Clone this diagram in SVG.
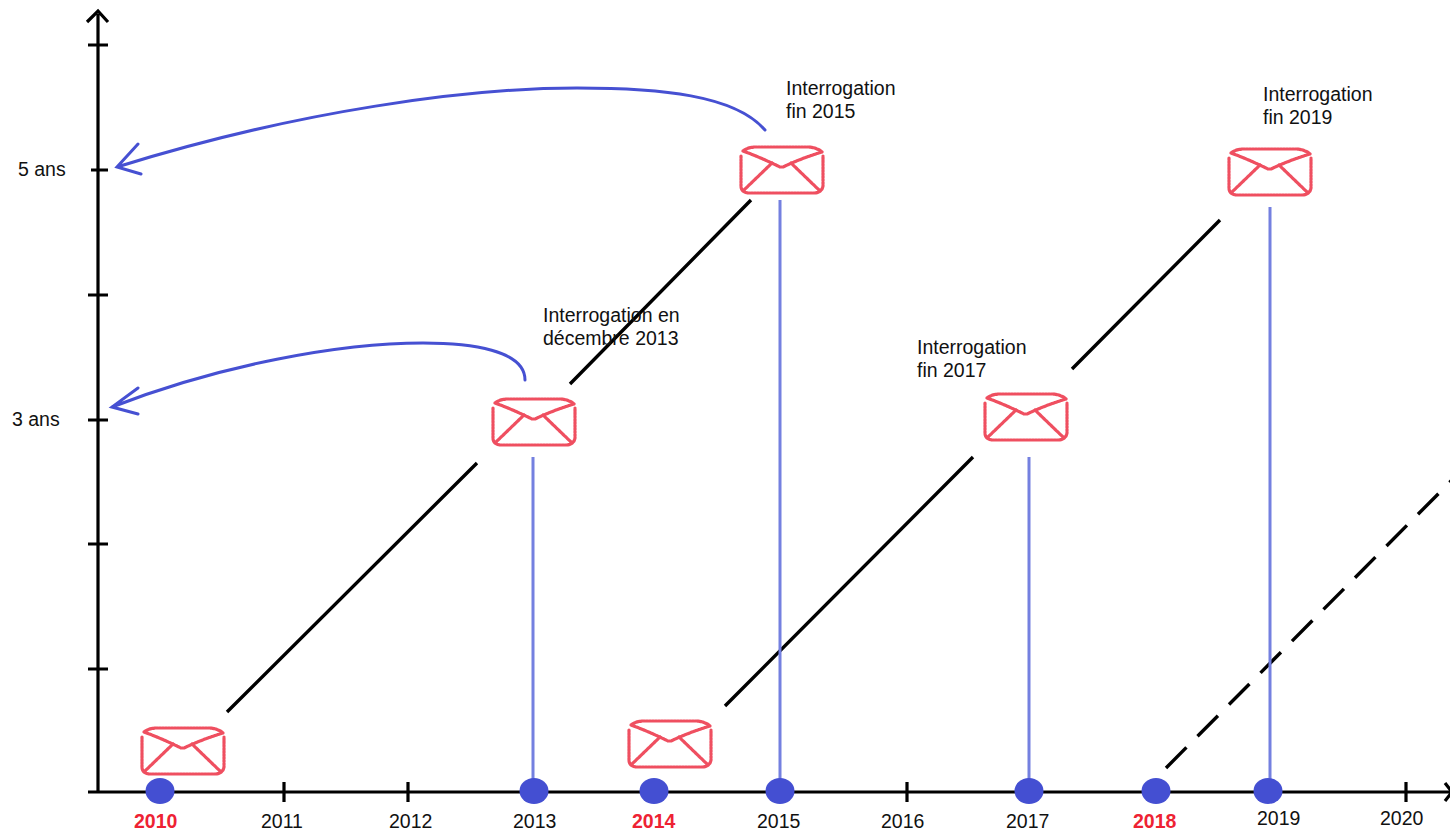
<svg xmlns="http://www.w3.org/2000/svg" width="1450" height="832" viewBox="0 0 1450 832">
<style>
text{font-family:"Liberation Sans",Arial,sans-serif;font-size:19.5px;fill:#111}
.red{fill:#ee2233;font-weight:bold}
.ax{fill:none;stroke:#000;stroke-width:3.2}
.black{fill:none;stroke:#000;stroke-width:3.4}
.dash{stroke-dasharray:29 15.7}
.drop{fill:none;stroke:#7480e0;stroke-width:3}
.curve{fill:none;stroke:#4650d2;stroke-width:3;stroke-linecap:round}
.dot{fill:#444fd2}
.env{fill:none;stroke:#ef4f60;stroke-width:3.2;stroke-dasharray:2.2 .9;stroke-linecap:round;stroke-linejoin:round;filter:url(#soft)}
</style>
<defs>
<filter id="soft" x="-5%" y="-5%" width="110%" height="110%"><feGaussianBlur stdDeviation="0.4"/></filter>
<g id="mail" class="env">
<path d="M3 5Q6 2 14 1H69Q78 2 82 6Q62 12 43 21H40Q22 12 3 5Z"/>
<path d="M1 10V40Q1 46 8 47H75Q82 46 83 40V10"/>
<path d="M4 44L32 17M79 44L51 17"/>
</g>
</defs>
<g id="axes">
<path class="ax" d="M98 14V792M87 22L98 11L108 22M88 45H108M91 170H108M88 295H108M88 420H108M88 544H108M88 669H108"/>
<path class="ax" d="M88 792H1450M284 782V802M408 782V802M907 782V802M1406 782V802M1445 783L1452 792L1445 801"/>
</g>
<g id="connectors">
<path class="black" d="M227 712L477 463M570 384L751 200M725 706L973 457M1072 369L1220 220"/>
<path class="black dash" d="M1166 768L1452 480"/>
<path class="drop" d="M533 457V790M780 200V790M1029 457V790M1270 207V790"/>
<path class="curve" d="M765 130C735 95 660 88 577 88C470 88 300 110 117 167M138 144L117 167L141 174"/>
<path class="curve" d="M525 380C525 350 470 343 423 343C340 343 220 365 112 407M138 388L112 407L138 414"/>
</g>
<g id="dots">
<ellipse class="dot" cx="160" cy="791" rx="14.5" ry="13"/>
<ellipse class="dot" cx="534" cy="791" rx="14.5" ry="13"/>
<ellipse class="dot" cx="654" cy="791" rx="14.5" ry="13"/>
<ellipse class="dot" cx="780" cy="791" rx="14.5" ry="13"/>
<ellipse class="dot" cx="1029" cy="791" rx="14.5" ry="13"/>
<ellipse class="dot" cx="1156" cy="791" rx="14.5" ry="13"/>
<ellipse class="dot" cx="1268" cy="791" rx="14.5" ry="13"/>
</g>
<g id="env-2010"><use href="#mail" x="141" y="727"/></g>
<g id="env-2013"><use href="#mail" x="492" y="398"/></g>
<g id="env-2015"><use href="#mail" x="740" y="146"/></g>
<g id="env-2014"><use href="#mail" x="628" y="720"/></g>
<g id="env-2017"><use href="#mail" x="984" y="393"/></g>
<g id="env-2019"><use href="#mail" x="1228" y="148"/></g>
<g id="labels">
<text x="18" y="176">5 ans</text>
<text x="12" y="426">3 ans</text>
<text x="786" y="95">Interrogation</text>
<text x="786" y="118">fin 2015</text>
<text x="1263" y="101">Interrogation</text>
<text x="1263" y="124">fin 2019</text>
<text x="543" y="322">Interrogation en</text>
<text x="543" y="345">décembre 2013</text>
<text x="917" y="354">Interrogation</text>
<text x="917" y="377">fin 2017</text>
<text class="red" x="134" y="828">2010</text>
<text x="261" y="828">2011</text>
<text x="389" y="828">2012</text>
<text x="513" y="828">2013</text>
<text class="red" x="632" y="828">2014</text>
<text x="757" y="828">2015</text>
<text x="881" y="828">2016</text>
<text x="1006" y="828">2017</text>
<text class="red" x="1133" y="828">2018</text>
<text x="1257" y="825">2019</text>
<text x="1380" y="825">2020</text>
</g>
</svg>
